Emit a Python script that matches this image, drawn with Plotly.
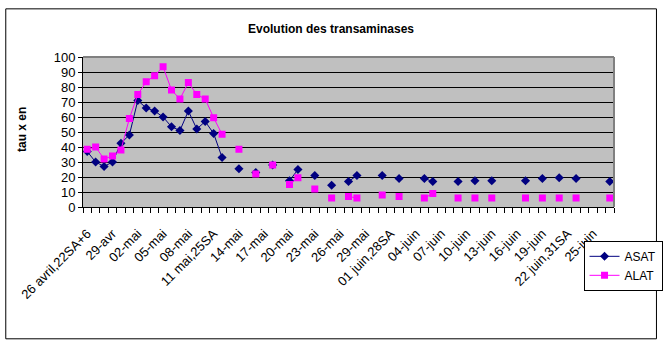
import plotly.graph_objects as go

# 63 daily categories: 26 avril .. 27 juin
n_days = 63
tick_labels = ["26 avril,22SA+6", "29-avr", "02-mai", "05-mai", "08-mai",
               "11 mai,25SA", "14-mai", "17-mai", "20-mai", "23-mai", "26-mai",
               "29-mai", "01 juin,28SA", "04-juin", "07-juin", "10-juin",
               "13-juin", "16-juin", "19-juin", "22 juin,31SA", "25-juin"]
tick_step = 3

N = None
asat = [37, 30, 27, 30, 42.5, 48, 71, 66, 64, 60, 53.5, 51, 64, 52, 57, 49, 33,
        N, 25.5, N, 23, N, 28, N, 17.5, 25, N, 21, N, 14.5, N, 17, 21, N, N,
        21, N, 19, N, N, 19, 17, N, N, 17, N, 17.5, N, 17.5, N, N, N, 17.5, N,
        19, N, 19.5, N, 19, N, N, N, 17]
alat = [38.5, 40, 32, 34, 38, 59, 75, 83.5, 87.5, 93.5, 78, 72, 83, 75, 72, 59.5, 48.5,
        N, 38.5, N, 22, N, 28, N, 15, 19.5, N, 12, N, 6, N, 7, 6, N, N,
        8, N, 7, N, N, 6, 9, N, N, 6, N, 6, N, 6, N, N, N, 6, N,
        6, N, 6, N, 6, N, N, N, 6]

x = list(range(n_days))
tickvals = list(range(0, n_days, tick_step))[:len(tick_labels)]

FONT = "Liberation Sans, Arial, sans-serif"

fig = go.Figure()
fig.add_trace(go.Scatter(x=x, y=asat, name="ASAT", mode="lines+markers",
                         line=dict(color="#000080", width=1),
                         marker=dict(symbol="diamond", size=7, color="#000080")))
fig.add_trace(go.Scatter(x=x, y=alat, name="ALAT", mode="lines+markers",
                         line=dict(color="#FF00FF", width=1),
                         marker=dict(symbol="square", size=7, color="#FF00FF")))

px0, px1 = 83, 614.5
py0, py1 = 207.5, 56.7
W, H = 668, 355
pw, ph = px1 - px0, py0 - py1

def fx(p):
    return (p - px0) / pw

def fy(p):
    return (py0 - p) / ph

fig.update_layout(
    width=W, height=H,
    margin=dict(l=px0, r=W - px1, t=py1, b=H - py0, pad=0, autoexpand=False),
    paper_bgcolor="white", plot_bgcolor="#C0C0C0",
    font=dict(family=FONT, size=12, color="black"),
    showlegend=True,
    legend=dict(x=fx(584), y=fy(241.5), xanchor="left", yanchor="top",
                bordercolor="black", borderwidth=1, bgcolor="white",
                font=dict(size=12), itemwidth=30, tracegroupgap=4),
    title=dict(text="<b>Evolution des transaminases</b>", x=331 / W, xref="container",
               y=1 - 29 / H, yref="container", xanchor="center", yanchor="middle",
               font=dict(size=12), automargin=False),
    xaxis=dict(range=[-0.5, n_days - 0.5], tickmode="array", tickvals=tickvals,
               ticktext=tick_labels, tickangle=-45, ticks="", showgrid=False,
               zeroline=False, showline=True, linecolor="black", linewidth=1,
               tickfont=dict(size=13), ticklabelstandoff=13, automargin=False,
               minor=dict(tickmode="linear", tick0=-0.5, dtick=1, ticks="outside",
                          ticklen=5, tickcolor="black", showgrid=False)),
    yaxis=dict(range=[0, 100], dtick=10, ticks="outside", ticklen=4, tickcolor="black",
               showgrid=True, gridcolor="black", gridwidth=1, zeroline=False,
               showline=True, linecolor="black", linewidth=1, automargin=False,
               tickfont=dict(size=13)),
)

# plot-area border (top/right), outer chart frame
fig.add_shape(type="line", xref="paper", yref="paper", x0=0, x1=1, y0=1, y1=1,
              line=dict(color="#808080", width=2))
fig.add_shape(type="line", xref="paper", yref="paper", x0=1, x1=1, y0=0, y1=1,
              line=dict(color="#808080", width=2))
fig.add_shape(type="rect", xref="paper", yref="paper",
              x0=fx(5.7), x1=fx(657), y0=fy(340), y1=fy(8.3),
              line=dict(color="black", width=1), fillcolor="rgba(0,0,0,0)")

fig.add_annotation(text="<b>tau x en</b>", xref="paper", yref="paper",
                   x=fx(22), y=fy(130), textangle=-90, showarrow=False,
                   font=dict(size=12), xanchor="center", yanchor="middle")

fig.write_html("out.html", config={"displayModeBar": False},
               post_script="document.body.style.margin='0';document.body.style.overflow='hidden';")
